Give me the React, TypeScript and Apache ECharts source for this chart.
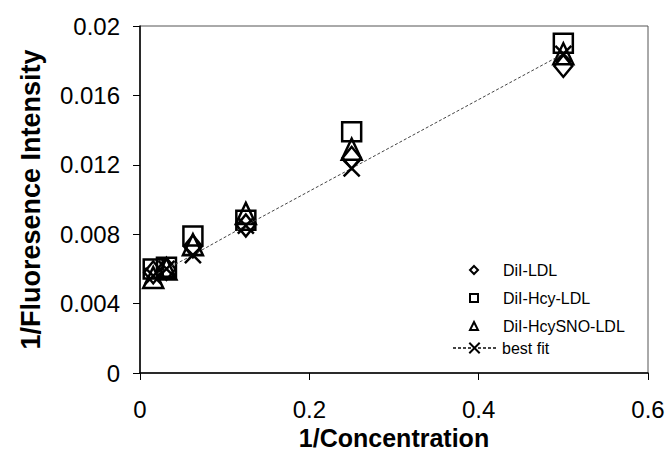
import React, { useEffect, useRef } from "react";
import * as echarts from "echarts";

const xValues = [0.015625, 0.03125, 0.0625, 0.125, 0.25, 0.5];
const dilLdl = [0.0058, 0.006, 0.0073, 0.0085, 0.0124, 0.0177];
const dilHcyLdl = [0.006, 0.0061, 0.0079, 0.0088, 0.0139, 0.019];
const dilHcySnoLdl = [0.0055, 0.006, 0.0074, 0.0092, 0.0129, 0.0184];
const bestFit = [0.0056, 0.006, 0.0068, 0.0085, 0.0118, 0.0184];
const seriesNames = ["DiI-LDL", "DiI-Hcy-LDL", "DiI-HcySNO-LDL", "best fit"];
const xTicks = { min: 0, max: 0.6, interval: 0.2 };
const yTicks = { min: 0, max: 0.02, interval: 0.004 };

const pair = (ys: number[]) => xValues.map((x, i) => [x, ys[i]]);
const fmt = (v: number) => String(parseFloat(v.toFixed(4)));
const FONT = "'Liberation Sans', Arial, sans-serif";
const XPATH = "path://M0 0L10 10M10 0L0 10";

export default function App() {
  const ref = useRef<HTMLDivElement>(null);
  useEffect(() => {
    if (!ref.current) return;
    const chart = echarts.init(ref.current, null, { renderer: "svg" });
    const hollow = { color: "transparent", borderColor: "#000", borderWidth: 2.5, opacity: 1 };
    const scatterLegend = {
      orient: "vertical" as const,
      padding: 0,
      itemWidth: 8,
      itemHeight: 8,
      textStyle: { fontFamily: FONT, fontSize: 16, color: "#000", padding: [0, 0, 0, 20] },
    };
    chart.setOption({
      animation: false,
      backgroundColor: "#fff",
      grid: {
        left: 140,
        top: 26,
        right: 21,
        bottom: 101,
        show: true,
        borderColor: "#555",
        borderWidth: 1,
      },
      legend: [
        { ...scatterLegend, left: 469, top: 262, data: [seriesNames[0]] },
        { ...scatterLegend, left: 469, top: 290, data: [seriesNames[1]] },
        { ...scatterLegend, left: 469, top: 318, data: [seriesNames[2]] },
        {
          orient: "vertical",
          padding: 0,
          itemWidth: 43,
          itemHeight: 13,
          left: 452,
          top: 340,
          data: [seriesNames[3]],
          textStyle: { fontFamily: FONT, fontSize: 16, color: "#000", padding: [0, 0, 0, 1] },
        },
      ],
      xAxis: {
        type: "value",
        ...xTicks,
        name: "1/Concentration",
        nameLocation: "middle",
        nameGap: 39,
        nameTextStyle: { fontFamily: FONT, fontSize: 25, fontWeight: "bold", color: "#000" },
        axisLine: { lineStyle: { color: "#000", width: 1.5 } },
        axisTick: { show: true, inside: false, length: 7, lineStyle: { color: "#000" } },
        axisLabel: { formatter: fmt, fontFamily: FONT, fontSize: 24, color: "#000", margin: 24 },
        splitLine: { show: false },
      },
      yAxis: {
        type: "value",
        ...yTicks,
        name: "1/Fluoresence Intensity",
        nameLocation: "middle",
        nameGap: 96,
        nameRotate: 90,
        nameTextStyle: { fontFamily: FONT, fontSize: 27, fontWeight: "bold", color: "#000" },
        axisLine: { show: true, lineStyle: { color: "#000", width: 1.5 } },
        axisTick: { show: true, inside: false, length: 7, lineStyle: { color: "#000" } },
        axisLabel: { formatter: fmt, fontFamily: FONT, fontSize: 24, color: "#000", margin: 20 },
        splitLine: { show: false },
      },
      series: [
        {
          name: seriesNames[0],
          type: "scatter",
          symbol: "diamond",
          symbolSize: [18, 22],
          itemStyle: hollow,
          data: pair(dilLdl),
        },
        {
          name: seriesNames[1],
          type: "scatter",
          symbol: "rect",
          symbolSize: [19, 19],
          itemStyle: hollow,
          data: pair(dilHcyLdl),
        },
        {
          name: seriesNames[2],
          type: "scatter",
          symbol: "triangle",
          symbolSize: [20, 21],
          itemStyle: hollow,
          data: pair(dilHcySnoLdl),
        },
        {
          name: seriesNames[3],
          type: "line",
          symbol: XPATH,
          symbolSize: 16,
          showSymbol: true,
          itemStyle: { color: "transparent", borderColor: "#000", borderWidth: 2.5, opacity: 1 },
          lineStyle: { color: "#444", width: 1, type: [3, 2] },
          data: pair(bestFit),
        },
      ],
    });
    return () => chart.dispose();
  }, []);
  return (
    <div
      ref={ref}
      style={{ position: "fixed", left: 0, top: 0, width: 669, height: 474, background: "#fff" }}
    />
  );
}
